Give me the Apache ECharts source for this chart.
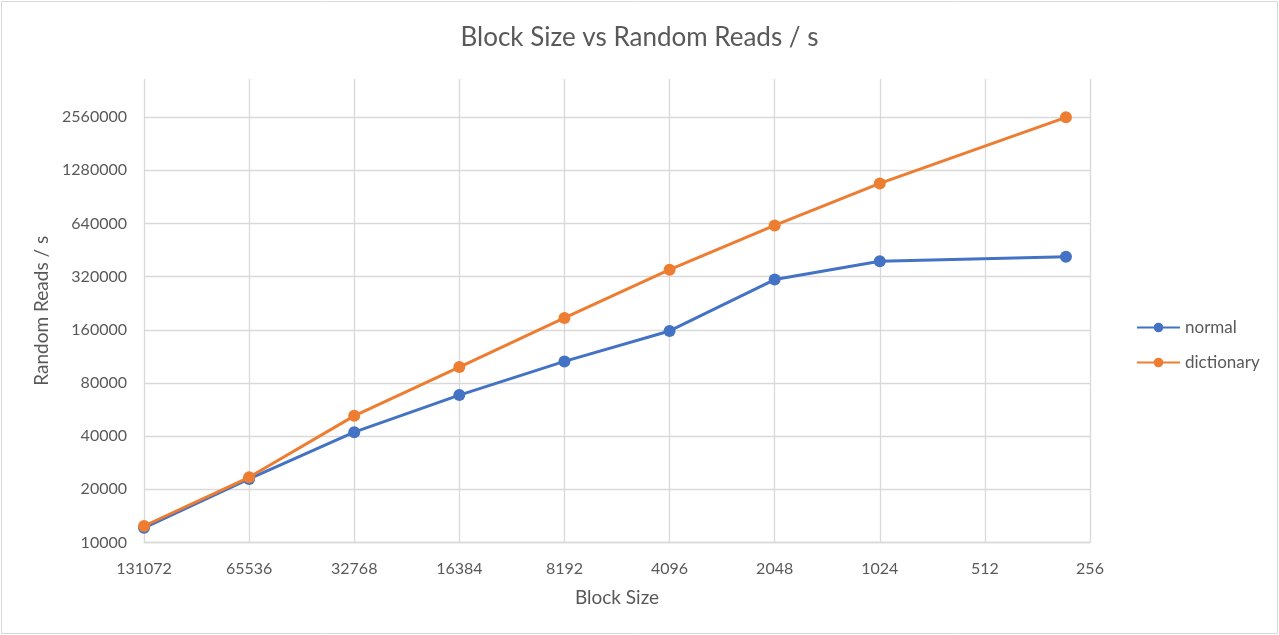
<!DOCTYPE html>
<html>
<head>
<meta charset="utf-8">
<script src="https://cdn.jsdelivr.net/npm/echarts@6/dist/echarts.min.js"></script>
<style>
html,body{margin:0;padding:0;background:#fff;}
#chart{width:1279px;height:635px;}
</style>
</head>
<body>
<div id="chart"></div>
<script>
// Data
const blockSizes = [131072, 65536, 32768, 16384, 8192, 4096, 2048, 1024, 300];
const normalReads = [12100, 22900, 42100, 68300, 105900, 157500, 307800, 390700, 413900];
const dictionaryReads = [12400, 23400, 52100, 98400, 186600, 350000, 623000, 1077000, 2550000];
const seriesNames = ['normal', 'dictionary'];
const xTickRange = [256, 131072];
const yBase = 10000; // lowest tick of the log2 value axis (ticks are yBase * 2^k)

const toLog = v => Math.log2(v / yBase);
const pairs = vals => blockSizes.map((b, i) => [b, toLog(vals[i])]);

const textColor = '#595959';
const gridColor = '#d9d9d9';
const font = 'Lato';

const chart = echarts.init(document.getElementById('chart'), null, {renderer: 'canvas'});
chart.setOption({
  animation: false,
  backgroundColor: '#fff',
  textStyle: {fontFamily: font},
  title: {
    text: 'Block Size vs Random Reads / s',
    left: 'center',
    top: 20,
    textStyle: {fontFamily: font, fontSize: 26, fontWeight: 'normal', color: textColor}
  },
  graphic: [{
    type: 'rect',
    shape: {x: 1.5, y: 1.5, width: 1276, height: 632},
    style: {fill: 'none', stroke: gridColor, lineWidth: 1},
    silent: true
  }],
  legend: {
    orient: 'vertical',
    left: 1131,
    top: 314,
    itemWidth: 43,
    itemHeight: 12,
    itemGap: 18,
    textStyle: {fontFamily: font, fontSize: 17, color: textColor},
    data: seriesNames
  },
  grid: {left: 144, right: 189, top: 79, bottom: 92.5, containLabel: false},
  xAxis: {
    type: 'log',
    logBase: 2,
    min: xTickRange[0],
    max: xTickRange[1],
    inverse: true,
    name: 'Block Size',
    nameLocation: 'middle',
    nameGap: 46,
    nameTextStyle: {fontFamily: font, fontSize: 19, color: textColor},
    axisLine: {show: true, lineStyle: {color: gridColor, width: 1.3}},
    axisTick: {show: false},
    axisLabel: {
      fontFamily: font, fontSize: 16, color: textColor, margin: 18,
      formatter: v => String(Math.round(v))
    },
    splitLine: {show: true, lineStyle: {color: gridColor, width: 1.3}}
  },
  yAxis: {
    type: 'value',
    min: 0,
    max: 8.715,
    interval: 1,
    name: 'Random Reads / s',
    nameLocation: 'middle',
    nameGap: 92,
    nameTextStyle: {fontFamily: font, fontSize: 19, color: textColor},
    axisLine: {show: false},
    axisTick: {show: false},
    axisLabel: {
      fontFamily: font, fontSize: 16, color: textColor, margin: 17,
      showMaxLabel: false,
      formatter: v => String(Math.round(yBase * Math.pow(2, v)))
    },
    splitLine: {show: true, showMaxLine: false, lineStyle: {color: gridColor, width: 1.3}}
  },
  series: [
    {
      name: seriesNames[0],
      type: 'line',
      data: pairs(normalReads),
      symbol: 'circle',
      symbolSize: 12,
      lineStyle: {width: 3, color: '#4472C4'},
      itemStyle: {color: '#4472C4'},
      z: 2
    },
    {
      name: seriesNames[1],
      type: 'line',
      data: pairs(dictionaryReads),
      symbol: 'circle',
      symbolSize: 12,
      lineStyle: {width: 3, color: '#ED7D31'},
      itemStyle: {color: '#ED7D31'},
      z: 3
    }
  ]
});
</script>
</body>
</html>
